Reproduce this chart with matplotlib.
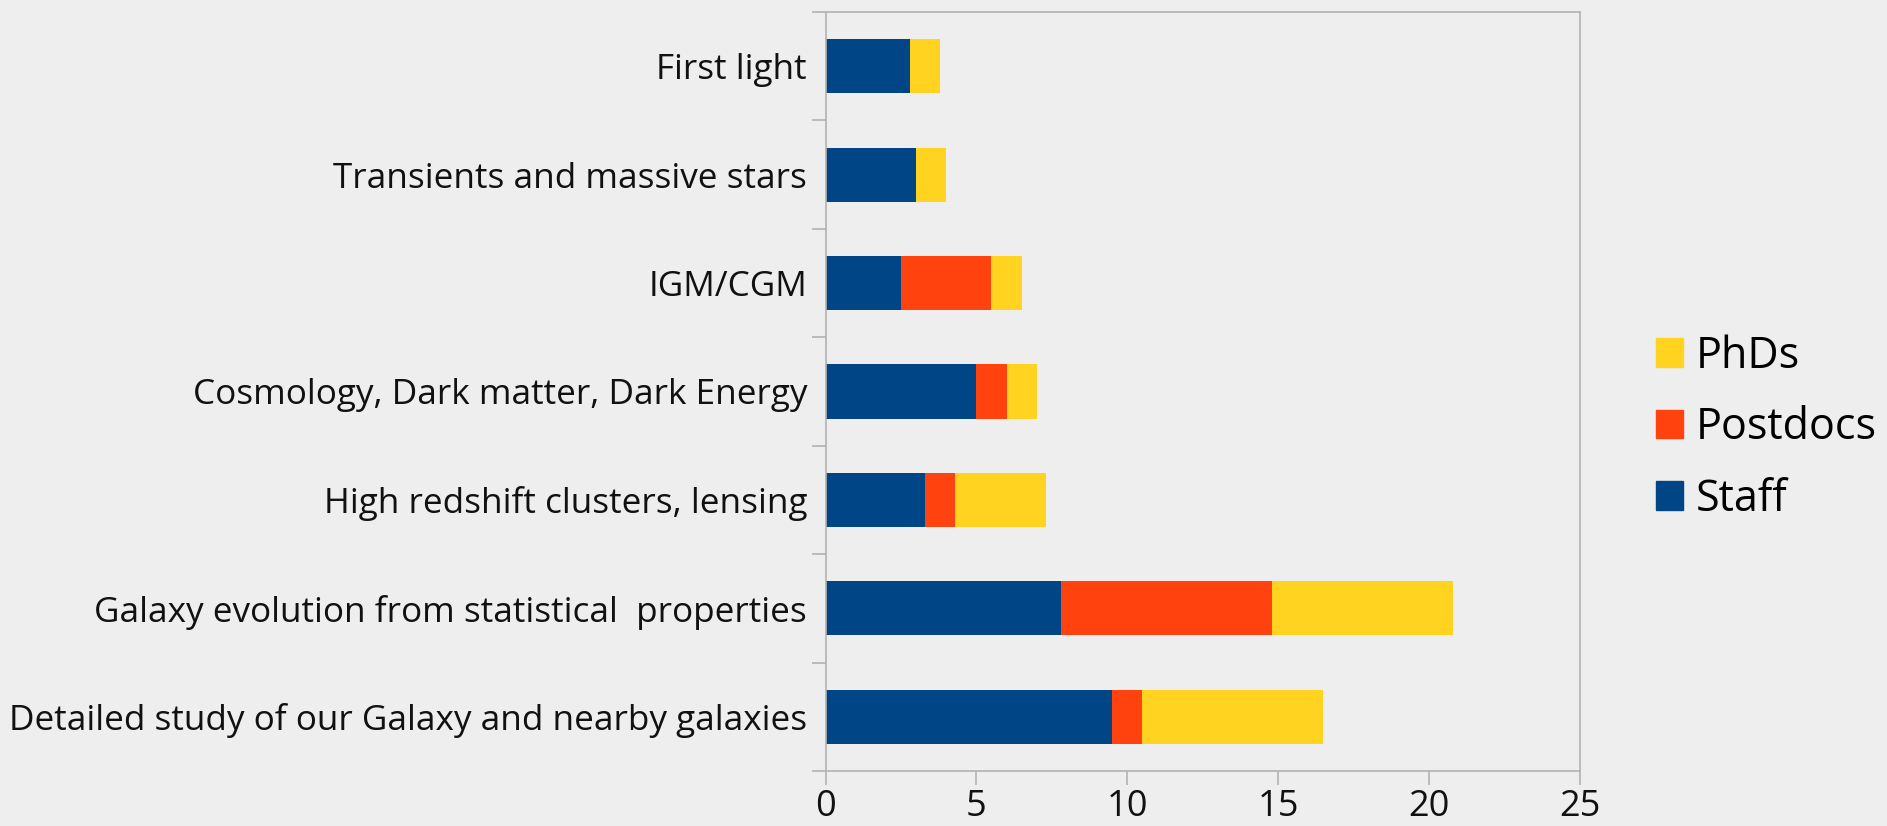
import matplotlib
matplotlib.use("Agg")
import matplotlib.pyplot as plt
import numpy as np
from matplotlib.patches import Patch

categories = [
    "First light",
    "Transients and massive stars",
    "IGM/CGM",
    "Cosmology, Dark matter, Dark Energy",
    "High redshift clusters, lensing",
    "Galaxy evolution from statistical  properties",
    "Detailed study of our Galaxy and nearby galaxies",
]
staff = [2.8, 3.0, 2.5, 5.0, 3.3, 7.8, 9.5]
postdocs = [0.0, 0.0, 3.0, 1.0, 1.0, 7.0, 1.0]
phds = [1.0, 1.0, 1.0, 1.0, 3.0, 6.0, 6.0]
series_names = ["Staff", "Postdocs", "PhDs"]
colors = ["#004586", "#ff420e", "#ffd320"]
xticks = [0, 5, 10, 15, 20, 25]

plt.rcParams['font.family'] = ['Open Sans', 'DejaVu Sans']
bg = "#eeeeee"
fig = plt.figure(figsize=(18.87, 8.26), dpi=100, facecolor=bg)
W, H = 1887, 826
ax = fig.add_axes([825.5 / W, (H - 771) / H, (1580 - 825.5) / W, (771 - 12) / H])
ax.set_facecolor(bg)

y = np.arange(len(categories))
s = np.array(staff); p = np.array(postdocs); d = np.array(phds)
ax.barh(y, s, height=0.5, color=colors[0], label=series_names[0])
ax.barh(y, p, left=s, height=0.5, color=colors[1], label=series_names[1])
ax.barh(y, d, left=s + p, height=0.5, color=colors[2], label=series_names[2])

ax.set_ylim(len(categories) - 0.5, -0.5)
ax.set_xlim(0, 25)
ax.set_yticks(y)
ax.set_yticklabels(categories)
ax.set_yticks(np.arange(-0.5, len(categories), 1.0), minor=True)
ax.tick_params(axis='y', which='major', length=0, pad=13.3, labelsize=25.3, labelcolor='#111111')
ax.tick_params(axis='y', which='minor', length=10, width=1.2, color='#b3b3b3')
ax.set_xticks(xticks)
ax.tick_params(axis='x', which='major', length=10, width=1.2, color='#b3b3b3',
               pad=3, labelsize=26, labelcolor='#111111')
for sp in ax.spines.values():
    sp.set_color('#b3b3b3')
    sp.set_linewidth(1.2)

handles = [Patch(color=colors[i]) for i in (2, 1, 0)]
labels = [series_names[i] for i in (2, 1, 0)]
fig.legend(handles, labels, loc='center left', bbox_to_anchor=(1656 / W, (H - 428) / H),
           frameon=False, fontsize=31, handlelength=0.62, handleheight=0.65,
           handletextpad=0.3, labelspacing=0.63, borderpad=0, borderaxespad=0)

fig.savefig("out.png", dpi=100, facecolor=bg)
